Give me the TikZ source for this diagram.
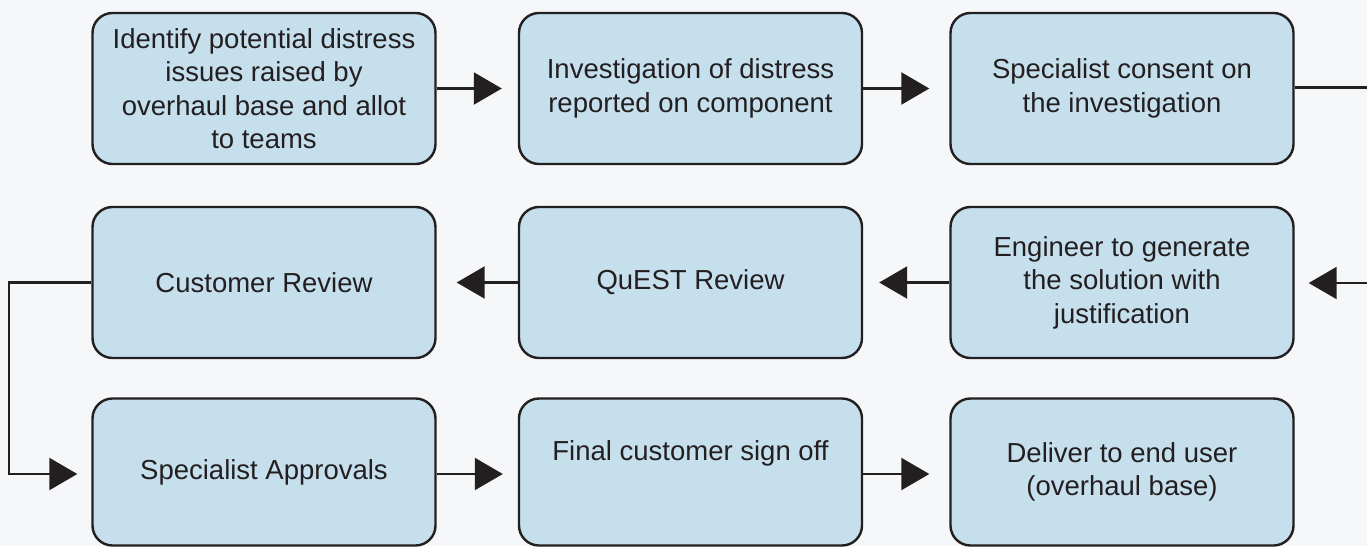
\documentclass[tikz,border=0pt]{standalone}
\usepackage{fontspec}
\setmainfont{Liberation Sans}
\usetikzlibrary{arrows.meta}
\definecolor{bg}{HTML}{F5F7F9}
\definecolor{boxfill}{HTML}{C6DFEC}
\definecolor{ink}{HTML}{231F20}
\begin{document}
\begin{tikzpicture}[x=1pt,y=-1pt,
  stepbox/.style={draw=ink, fill=boxfill, line width=2.4pt, rounded corners=20pt,
    minimum width=343pt, align=center, text=ink, inner sep=0pt,
    font=\fontsize{27.5}{33.5}\selectfont},
  arr/.style={draw=ink, line width=2.2pt, -{Triangle[length=28pt,width=32pt]}},
  ln/.style={draw=ink, line width=2.2pt}]
\useasboundingbox (0,0) rectangle (1367,546);
\fill[bg] (0,0) rectangle (1367,546);
% row 1
\node[stepbox, minimum height=151pt] (b1) at (264,88.5) {Identify potential distress\\issues raised by\\overhaul base and allot\\to teams};
\node[stepbox, minimum height=151pt] (b2) at (690.5,88.5) {Investigation of distress\\reported on component};
\node[stepbox, minimum height=151pt] (b3) at (1122,88.5) {Specialist consent on\\the investigation};
% row 2
\node[stepbox, minimum height=151pt] (b6) at (264,282.5) {Customer Review};
\node[stepbox, minimum height=151pt] (b5) at (690.5,282.5) {QuEST Review};
\node[stepbox, minimum height=151pt] (b4) at (1122,282.5) {Engineer to generate\\the solution with\\justification};
% row 3
\node[stepbox, minimum height=147pt] (b7) at (264,472) {Specialist Approvals};
\node[stepbox, minimum height=147pt] (b8) at (690.5,472) {};
\node[text=ink, font=\fontsize{27.5}{33.5}\selectfont] (t8) at (690.5,453) {Final customer sign off};
\node[stepbox, minimum height=147pt] (b9) at (1122,472) {Deliver to end user\\(overhaul base)};
% off-page ends
\coordinate (r1) at (1372,87.5);
\coordinate (r2) at (1372,283);
% connectors
\draw[arr, shorten >=16pt] (b1) -- (b2);
\draw[arr, shorten >=20pt] (b2) -- (b3);
\draw[ln] (b3.east |- r1) -- (r1);
\draw[arr, shorten >=14pt] (r2) -- (b4.east |- r2);
\draw[arr, shorten >=16pt] (b4) -- (b5);
\draw[arr, shorten >=20pt] (b5) -- (b6);
\draw[arr, shorten >=14pt] (b6.west) -- ++(-82.4,0) |- ([yshift=-2pt]b7.west);
\draw[arr, shorten >=15pt] ([yshift=-2pt]b7.east) -- ([yshift=-2pt]b8.west);
\draw[arr, shorten >=20pt] ([yshift=-2pt]b8.east) -- ([yshift=-2pt]b9.west);
\end{tikzpicture}
\end{document}
